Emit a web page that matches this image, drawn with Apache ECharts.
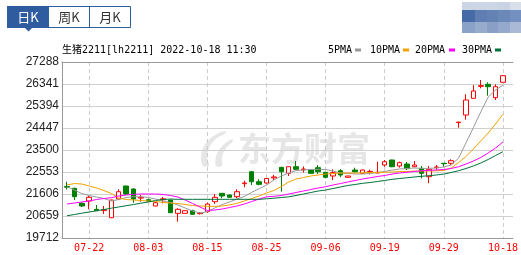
<!DOCTYPE html>
<html><head><meta charset="utf-8">
<script src="https://cdn.jsdelivr.net/npm/echarts@6/dist/echarts.min.js"></script>
<style>html,body{margin:0;padding:0;background:#fff}#c{width:521px;height:255px}</style>
</head><body><div id="c"></div>
<script>
const dates = ['07-19','07-20','07-21','07-22','07-25','07-26','07-27','07-28','07-29','08-01',
 '08-02','08-03','08-04','08-05','08-08','08-09','08-10','08-11','08-12','08-15',
 '08-16','08-17','08-18','08-19','08-22','08-23','08-24','08-25','08-26','08-29',
 '08-30','08-31','09-01','09-02','09-05','09-06','09-07','09-08','09-09','09-13',
 '09-14','09-15','09-16','09-19','09-20','09-21','09-22','09-23','09-26','09-27',
 '09-28','09-29','09-30','10-10','10-11','10-12','10-13','10-14','10-17','10-18'];
const opens = [21930,21851,21205,21304,20947,20900,20585,21390,21950,21821,
 21430,21360,21089,21360,21347,20774,20774,20887,20760,20844,
 21275,21635,21562,21489,22050,22566,22135,22079,22300,22755,
 22497,22781,22650,22639,22738,22540,22381,22609,22325,22639,
 22497,22560,22510,22854,23069,22811,22897,22781,22712,22351,
 22740,22930,22927,24680,25006,25725,26240,26328,25751,26414];
const closes = [21900,21489,21089,21464,20887,20920,21347,21705,21606,21390,
 21460,21300,21231,21400,20800,20947,20887,20731,20780,21175,
 21464,21520,21464,21705,22080,22135,22023,22273,22340,22566,
 22781,22669,22680,22497,22566,22325,22523,22424,22381,22566,
 22639,22580,22540,22996,22781,22954,22695,22854,22497,22669,
 22770,22910,23039,24700,25652,26040,26270,26225,26225,26698];
const lows = [21800,21347,21050,20947,20870,20745,20570,21347,21560,21231,
 21275,21280,21080,21200,20790,20413,20765,20710,20720,20800,
 21175,21420,21450,21420,21894,21993,21980,22060,22210,21705,
 22381,22640,22530,22470,22467,22280,22208,22330,22310,22523,
 22490,22450,22500,22781,22760,22740,22639,22760,22281,22066,
 22639,22781,22854,24460,24804,25700,26156,25837,25652,26400];
const highs = [22135,21870,21250,21520,21132,21089,21360,21808,21960,21850,
 21562,21400,21240,21480,21360,20990,20900,20930,20830,21231,
 21606,21650,21580,21808,22178,22580,22240,22290,22424,22770,
 22790,23026,22790,22660,22854,22560,22669,22680,22390,22738,
 22650,22650,22996,23069,23080,23000,22983,23026,22811,22811,
 22854,22940,23100,24710,25898,26298,26513,26414,26328,26720];
const ma5 = [21920,21778,21627,21541,21476,21412,21304,21369,21455,21489,
 21489,21455,21390,21304,21240,21132,21003,20874,20788,20852,
 21003,21153,21261,21390,21498,21680,21830,21990,22208,22380,
 22509,22617,22639,22660,22669,22660,22596,22509,22488,22466,
 22466,22488,22531,22574,22639,22682,22703,22725,22703,22712,
 22725,22768,22854,23150,23810,24468,25140,25777,26082,26292];
const ma10 = [21993,22057,22036,21950,21864,21756,21627,21433,21369,21347,
 21326,21304,21283,21240,21218,21197,21153,21110,21089,21076,
 21076,21089,21132,21205,21304,21412,21520,21648,21756,21928,
 22122,22251,22316,22381,22423,22466,22488,22509,22509,22509,
 22518,22531,22531,22540,22553,22574,22574,22596,22596,22596,
 22605,22617,22725,22962,23220,23543,23887,24231,24619,25037];
const ma20 = [21175,21218,21261,21304,21369,21412,21446,21520,21562,21593,
 21606,21606,21606,21584,21541,21476,21347,21197,21046,20895,
 20917,20960,21024,21089,21175,21283,21390,21484,21506,21541,
 21606,21670,21735,21799,21864,21920,21993,22057,22122,22187,
 22251,22303,22359,22402,22466,22509,22540,22574,22605,22626,
 22639,22660,22703,22781,22897,23026,23177,23371,23586,23844];
const ma30 = [20671,20723,20779,20831,20887,20938,20995,21046,21102,21153,
 21210,21261,21326,21369,21390,21377,21377,21377,21377,21377,
 21377,21377,21377,21377,21377,21377,21377,21399,21425,21455,
 21484,21541,21606,21670,21735,21778,21842,21907,21972,22015,
 22066,22100,22143,22187,22238,22273,22303,22338,22368,22394,
 22424,22466,22531,22608,22703,22811,22940,23091,23263,23427];
const yTicks = [19712,20659,21606,22553,23500,24447,25394,26341,27288];
const title = '生猪2211[lh2211] 2022-10-18 11:30';
const legendNames = ['5PMA','10PMA','20PMA','30PMA'];
const maColors = ['#999999','#f5a100','#ff00ff','#00733a'];

const mono = "'DejaVu Sans Mono', 'Noto Sans CJK SC', monospace";
const chart = echarts.init(document.getElementById('c'), null, {renderer:'canvas'});
const candleData = dates.map((d,i)=>[opens[i],closes[i],lows[i],highs[i]]);
const showIdx = (i)=> (i-3)%8===0;

const legendX = [328,370,415,462];
const legendRectX = [355,403,449,495];
const graphics = [
  {type:'rect', shape:{x:7.5,y:6.5,width:123,height:21}, style:{fill:'#fff',stroke:'#2f5c9e',lineWidth:1}},
  {type:'rect', shape:{x:7.5,y:6.5,width:41,height:21}, style:{fill:'#2f5c9e',stroke:'#2f5c9e',lineWidth:1}},
  {type:'line', shape:{x1:89.5,y1:6.5,x2:89.5,y2:27.5}, style:{stroke:'#2f5c9e',lineWidth:1}},
  {type:'polygon', shape:{points:[[24,27],[33,27],[28.5,31.5]]}, style:{fill:'#2f5c9e'}},
  {type:'text', x:28, y:17, style:{text:'日K', fill:'#fff', font:"13px 'Noto Sans CJK SC'", align:'center', verticalAlign:'middle'}},
  {type:'text', x:69, y:17, style:{text:'周K', fill:'#333', font:"13px 'Noto Sans CJK SC'", align:'center', verticalAlign:'middle'}},
  {type:'text', x:110, y:17, style:{text:'月K', fill:'#333', font:"13px 'Noto Sans CJK SC'", align:'center', verticalAlign:'middle'}},
  {type:'text', x:62, y:50, style:{text:title, fill:'#000', font:"10px "+mono, verticalAlign:'middle'}},
  {type:'text', x:238, y:148, z:0, style:{text:'东方财富', fill:'#e6e6e6', font:"bold 33px 'Noto Sans CJK SC'", verticalAlign:'middle'}},
  {type:'polygon', z:0, shape:{points:[[224,131],[212,137],[203,148],[201,158],[203,166],[209,166],[207,156],[210,146],[217,138],[226,133]], smooth:0.3}, style:{fill:'#e6e6e6'}},
  {type:'polygon', z:0, shape:{points:[[232,139],[222,146],[216,156],[216,166],[222,166],[222,157],[226,148],[233,141]], smooth:0.3}, style:{fill:'#e6e6e6'}}
];
legendNames.forEach((n,k)=>{
  graphics.push({type:'text', x:legendX[k], y:50, style:{text:n, fill:'#000', font:"10px "+mono, verticalAlign:'middle'}});
  graphics.push({type:'rect', shape:{x:legendRectX[k], y:48.5, width:6, height:3}, style:{fill:maColors[k]}});
});
const mosaicCols = [462,475,487,498,510,521];
const mosaicRows = [2,10,22,33];
const mosaicColors = [
  ['#cbd5e4','#cdd6e5','#cdd6e5','#c9d3e3','#d8dfeb'],
  ['#476ba6','#5f7fb4','#6582b5','#6a88b8','#7390c0'],
  ['#8aa1c8','#97abcd','#8a9fc6','#95a9cc','#a9b9d6']];
mosaicColors.forEach((row,r)=>row.forEach((c,k)=>{
  graphics.push({type:'rect', shape:{x:mosaicCols[k], y:mosaicRows[r], width:mosaicCols[k+1]-mosaicCols[k], height:mosaicRows[r+1]-mosaicRows[r]}, style:{fill:c}});
}));

const option = {
  animation:false,
  backgroundColor:'#fff',
  graphic: graphics,
  grid:[
    {left:62, right:8, top:62, bottom:17},
    {left:67, right:17, top:62, bottom:17}
  ],
  xAxis:[
    {gridIndex:0, type:'value', min:0, max:1, position:'bottom', axisLine:{show:true,lineStyle:{color:'#999'}}, axisTick:{show:false}, axisLabel:{show:false}, splitLine:{show:false}},
    {gridIndex:0, type:'value', min:0, max:1, position:'top', axisLine:{show:true,lineStyle:{color:'#999'}}, axisTick:{show:false}, axisLabel:{show:false}, splitLine:{show:false}},
    {gridIndex:1, type:'category', data:dates, boundaryGap:false,
      axisLine:{show:false}, axisTick:{show:false},
      axisLabel:{interval:(i)=>showIdx(i), color:'#ff0000', fontFamily:mono, fontSize:10, margin:5},
      splitLine:{show:true, interval:(i)=>showIdx(i), lineStyle:{type:[4,3], color:'#cccccc', width:1}}}
  ],
  yAxis:[
    {gridIndex:0, type:'value', min:0, max:8, interval:1,
      axisLine:{show:true,lineStyle:{color:'#999'}}, axisTick:{show:false},
      axisLabel:{formatter:(v)=>String(yTicks[v]), color:'#222', fontFamily:"'Liberation Sans', Arial", fontSize:12, margin:3},
      splitLine:{show:true, lineStyle:{color:'#d0d0d0', width:1}}},
    {gridIndex:1, type:'value', min:19712, max:27288, show:false, splitLine:{show:false}}
  ],
  series:[
    {type:'candlestick', xAxisIndex:2, yAxisIndex:1, data:candleData, barWidth:5,
      itemStyle:{color:'#ffffff', color0:'#008000', borderColor:'#ff0000', borderColor0:'#008000', borderWidth:1}},
    {type:'line', name:'5PMA', xAxisIndex:2, yAxisIndex:1, data:ma5, symbol:'none', lineStyle:{color:maColors[0], width:1}, z:3},
    {type:'line', name:'10PMA', xAxisIndex:2, yAxisIndex:1, data:ma10, symbol:'none', lineStyle:{color:maColors[1], width:1}, z:3},
    {type:'line', name:'20PMA', xAxisIndex:2, yAxisIndex:1, data:ma20, symbol:'none', lineStyle:{color:maColors[2], width:1}, z:3},
    {type:'line', name:'30PMA', xAxisIndex:2, yAxisIndex:1, data:ma30, symbol:'none', lineStyle:{color:maColors[3], width:1}, z:3}
  ]
};
chart.setOption(option);
</script></body></html>
